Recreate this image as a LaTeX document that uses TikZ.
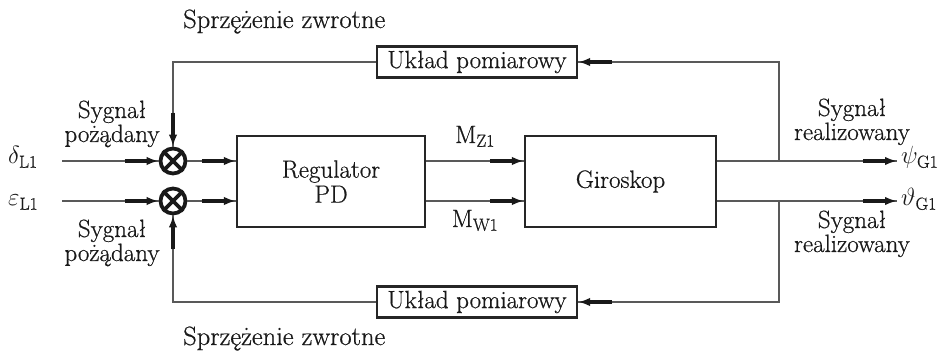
\documentclass[tikz,border=0pt]{standalone}
\usepackage{fontspec}
\setmainfont{Latin Modern Roman}[FakeBold=0.6]
\usetikzlibrary{arrows.meta,calc}
\tikzset{
  x=1pt,y=-1pt,
  every node/.style={font=\fontsize{25}{25}\selectfont, text=black!90},
  lbl/.style={inner sep=0pt},
  blk/.style={draw=black!85, line width=2.2pt, inner sep=0pt, align=center},
  wire/.style={draw=black!65, line width=1.1pt},
  tipseg/.style={draw=black!90, line width=3.2pt, -{Latex[length=12pt,width=8.5pt]}},
  sumj/.style={circle, draw=black!90, line width=3.8pt, minimum size=25pt, inner sep=0pt},
}
\newcommand\tipto[2]{\draw[tipseg] ($(#2)!34pt!(#1)$) -- (#2);}
\begin{document}
\begin{tikzpicture}
\useasboundingbox (0,0) rectangle (952,352);
% blocks
\node[blk, minimum width=188pt, minimum height=91pt] (reg) at (331,181.5) {Regulator\\PD};
\node[blk, minimum width=191pt, minimum height=91pt] (gir) at (620.5,181.5) {Giroskop};
\node[blk, minimum width=200pt, minimum height=31pt] (mt) at (477,62) {Układ pomiarowy};
\node[blk, minimum width=200pt, minimum height=31pt] (mb) at (477,302) {Układ pomiarowy};
% summing junctions
\node[sumj] (j1) at (173,161) {};
\node[sumj] (j2) at (173,201) {};
\foreach \j in {j1,j2}{
  \draw[line width=3.6pt, black!90] (\j.north west) -- (\j.south east);
  \draw[line width=3.6pt, black!90] (\j.north east) -- (\j.south west);
}
% coordinates
\coordinate (in1) at (62,161);
\coordinate (in2) at (62,201);
\coordinate (out1) at (897,161);
\coordinate (out2) at (897,201);
\coordinate (tap1) at (779,161);
\coordinate (tap2) at (779,201);
% inputs
\draw[wire] (in1) -- (j1.west); \tipto{in1}{j1.west}
\draw[wire] (in2) -- (j2.west); \tipto{in2}{j2.west}
% junction to regulator
\draw[wire] (j1.east) -- (j1.east -| reg.west); \tipto{j1.east}{j1.east -| reg.west}
\draw[wire] (j2.east) -- (j2.east -| reg.west); \tipto{j2.east}{j2.east -| reg.west}
% regulator to gyro
\draw[wire] (j1 -| reg.east) -- (j1 -| gir.west); \tipto{j1 -| reg.east}{j1 -| gir.west}
\draw[wire] (j2 -| reg.east) -- (j2 -| gir.west); \tipto{j2 -| reg.east}{j2 -| gir.west}
% outputs
\draw[wire] (j1 -| gir.east) -- (out1); \tipto{j1 -| gir.east}{out1}
\draw[wire] (j2 -| gir.east) -- (out2); \tipto{j2 -| gir.east}{out2}
% feedback top
\draw[wire] (tap1) |- (mt.east); \tipto{tap1 |- mt.east}{mt.east}
\draw[wire] (mt.west) -| (j1.north); \tipto{j1 |- mt.west}{j1.north}
% feedback bottom
\draw[wire] (tap2) |- (mb.east); \tipto{tap2 |- mb.east}{mb.east}
\draw[wire] (mb.west) -| (j2.south); \tipto{j2 |- mb.west}{j2.south}
% labels
\node[lbl, anchor=base west, font=\fontsize{26.5}{26}\selectfont] (fbt) at (183,28) {Sprzężenie zwrotne};
\node[lbl, anchor=base west, font=\fontsize{26.5}{26}\selectfont] (fbb) at (183,345) {Sprzężenie zwrotne};
\node[lbl, anchor=base] (sl1a) at (112,118) {Sygnał};
\node[lbl, anchor=base] (sl1b) at (112,142) {pożądany};
\node[lbl, anchor=base] (sl2a) at (112,237) {Sygnał};
\node[lbl, anchor=base] (sl2b) at (112,261) {pożądany};
\node[lbl, anchor=base] (sr1a) at (852,116) {Sygnał};
\node[lbl, anchor=base] (sr1b) at (852,140) {realizowany};
\node[lbl, anchor=base] (sr2a) at (852,228) {Sygnał};
\node[lbl, anchor=base] (sr2b) at (852,252) {realizowany};
\node[lbl, anchor=base west] (d) at (8,164) {$\delta_{\mathrm{L1}}$};
\node[lbl, anchor=base west] (e) at (8,206) {$\varepsilon_{\mathrm{L1}}$};
\node[lbl, anchor=base west] (psi) at (901,164) {$\psi_{\mathrm{G1}}$};
\node[lbl, anchor=base west] (th) at (901,206) {$\vartheta_{\mathrm{G1}}$};
\node[lbl, anchor=base] (mz) at (475,143) {M$_{\mathrm{Z1}}$};
\node[lbl, anchor=base] (mw) at (475,227) {M$_{\mathrm{W1}}$};
\end{tikzpicture}
\end{document}
